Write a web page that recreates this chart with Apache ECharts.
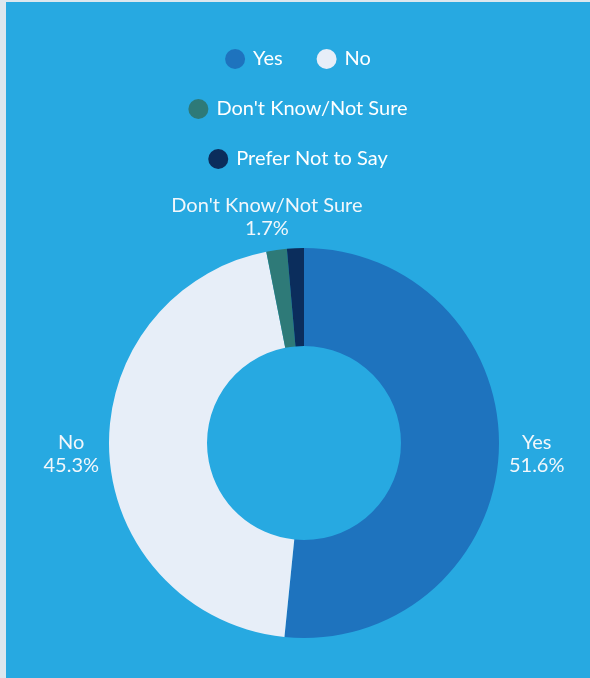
<!DOCTYPE html>
<html>
<head>
<meta charset="utf-8">
<script src="https://cdn.jsdelivr.net/npm/echarts@6/dist/echarts.min.js"></script>
<style>
  html, body { margin: 0; padding: 0; overflow: hidden; width: 100%; height: 100%;
    background: linear-gradient(to right, #DCE7EE 0, #DCE7EE 6px, #27A9E1 6px); }
  #frameTop { position: absolute; left: 0; top: 0; right: 0; height: 2px; background: #DCE7EE; }
  #chart { position: absolute; left: 6px; top: 2px; width: 584px; height: 676px; background: #27A9E1; }
</style>
</head>
<body>
<div id="frameTop"></div>
<div id="chart"></div>
<script>
// Survey answers and their shares (%)
const categories = ['Yes', 'No', "Don't Know/Not Sure", 'Prefer Not to Say'];
const shares = [51.6, 45.3, 1.7, 1.4];
const sliceColors = ['#1E73BE', '#E7EEF8', '#2E7A78', '#0B2D5C'];
// Legend rows
const legendRows = [['Yes', 'No'], ["Don't Know/Not Sure"], ['Prefer Not to Say']];
// Answers whose value label is not drawn
const hiddenLabels = ['Prefer Not to Say'];

const chart = echarts.init(document.getElementById('chart'), null, { renderer: 'canvas' });
const font = 'Lato, "Open Sans", sans-serif';

const legendTops = [42, 92, 142];
const legends = legendRows.map((row, i) => ({
  data: row,
  top: legendTops[i],
  left: 'center',
  orient: 'horizontal',
  icon: 'circle',
  itemWidth: 20,
  itemHeight: 20,
  itemGap: 34,
  textStyle: { color: '#FFFFFF', fontSize: 20, fontFamily: font, padding: [0, 0, 0, 3] }
}));

chart.setOption({
  backgroundColor: 'transparent',
  color: sliceColors,
  legend: legends,
  series: [{
    type: 'pie',
    center: [298, 441],
    radius: [97, 195],
    startAngle: 90,
    clockwise: true,
    avoidLabelOverlap: false,
    label: {
      show: true,
      position: 'outside',
      formatter: p => p.name + '\n' + p.value.toFixed(1) + '%',
      color: '#F2F7FB',
      fontSize: 20,
      lineHeight: 23,
      fontFamily: font
    },
    labelLine: { show: false, length: 33, length2: 0 },
    labelLayout: () => ({ align: 'center' }),
    emphasis: { disabled: true },
    data: categories.map((name, i) => ({
      name,
      value: shares[i],
      label: { show: hiddenLabels.indexOf(name) < 0 }
    }))
  }]
});
</script>
</body>
</html>
